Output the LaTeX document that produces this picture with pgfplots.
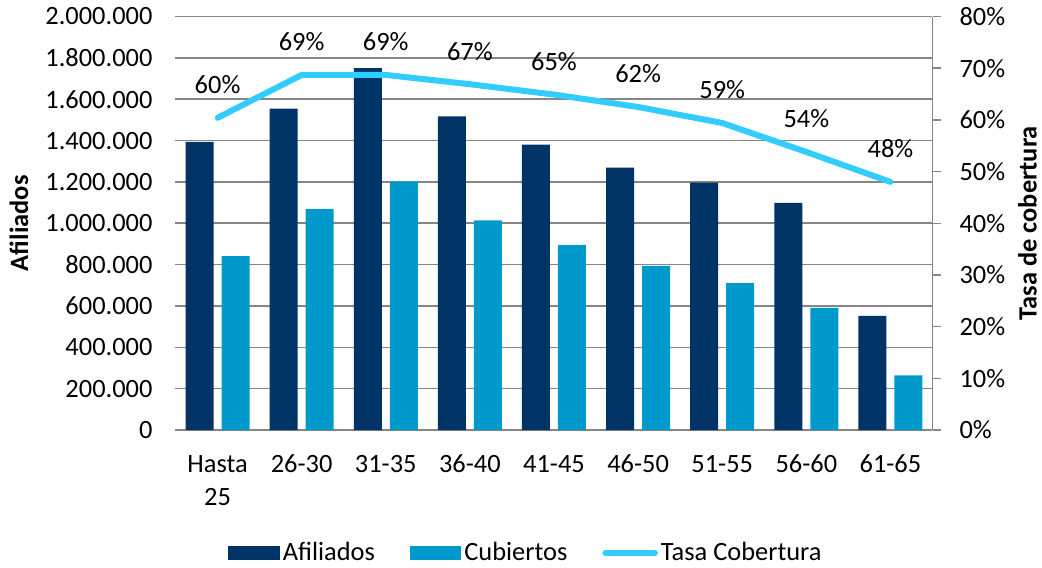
\documentclass[border=0pt]{standalone}
\usepackage{fontspec}
\setmainfont{Carlito}
\usepackage{pgfplots}
\pgfplotsset{compat=1.18}
\definecolor{afil}{RGB}{0,51,102}
\definecolor{cubi}{RGB}{0,153,204}
\definecolor{tasa}{RGB}{51,204,255}
\definecolor{gridgray}{RGB}{134,134,134}

\begin{document}
\begin{tikzpicture}[font=\fontsize{13.2}{16.5}\selectfont]
\path[use as bounding box] (-87.75pt,-68.5pt) rectangle (433.25pt,215pt);
% bars, left axis
\begin{axis}[
  at={(0,0)}, anchor=south west,
  scale only axis, width=378.5pt, height=206.75pt,
  xmin=-0.5, xmax=8.5, ymin=0, ymax=2000000,
  axis line style={draw=none},
  major tick length=0pt,
  ymajorgrids, grid style={gridgray, line width=0.75pt},
  ytick={0,200000,...,2000000},
  scaled y ticks=false,
  yticklabel={\pgfmathprintnumber[fixed, precision=0, 1000 sep={.}, assume math mode=true]{\tick}},
  yticklabel style={xshift=-8pt},
  xtick={0,...,8},
  xticklabels={{Hasta\\25},26-30,31-35,36-40,41-45,46-50,51-55,56-60,61-65},
  xticklabel style={align=center, yshift=-9pt},
  ylabel={\textbf{Afiliados}},
  ylabel style={at={(axis description cs:-0.2067,0.5)}, anchor=center},
  legend columns=-1,
  legend style={at={(0.4637,-0.2975)}, anchor=center, draw=none,
    /tikz/every even column/.append style={column sep=16pt},
    nodes={inner xsep=1.5pt}},
  legend cell align=left,
]
\addplot[ybar, bar width=14pt, bar shift=-9pt, fill=afil, draw=none,
  legend image code/.code={\fill[afil] (0pt,-3.65pt) rectangle (25.7pt,3.65pt);}]
  coordinates {(0,1393000) (1,1554000) (2,1750000) (3,1517000) (4,1380000)
               (5,1269000) (6,1196000) (7,1098000) (8,552000)};
\addlegendentry{Afiliados}
\addplot[ybar, bar width=14pt, bar shift=9pt, fill=cubi, draw=none,
  legend image code/.code={\fill[cubi] (0pt,-3.65pt) rectangle (25.7pt,3.65pt);}]
  coordinates {(0,841000) (1,1068000) (2,1203000) (3,1014000) (4,894000)
               (5,794000) (6,710000) (7,591000) (8,264000)};
\addlegendentry{Cubiertos}
\addlegendimage{legend image code/.code={\draw[tasa, line width=3pt, line cap=round] (1.5pt,0pt) -- (26.25pt,0pt);}}
\addlegendentry{Tasa Cobertura}
\end{axis}
% line, right axis
\begin{axis}[
  at={(0,0)}, anchor=south west,
  scale only axis, width=378.5pt, height=206.75pt,
  xmin=-0.5, xmax=8.5, ymin=0, ymax=80,
  axis x line=none, axis y line*=right,
  y axis line style={gridgray, line width=0.75pt},
  ytick={0,10,...,80},
  ytick style={gridgray, line width=0.75pt},
  tick align=outside, major tick length=4pt,
  yticklabel={\pgfmathprintnumber[fixed, precision=0, assume math mode=true]{\tick}\%},
  yticklabel style={xshift=6pt},
  ylabel={\textbf{Tasa de cobertura}},
  ylabel style={at={(axis description cs:1.1255,0.5)}, anchor=center, rotate=0},
]
\addplot[tasa, line width=3pt, line join=round, line cap=round,
  nodes near coords, point meta=explicit symbolic,
  every node near coord/.style={anchor=center, yshift=16.5pt, text=black}]
  coordinates {(0,60.4)[60\%] (1,68.7)[69\%] (2,68.7)[69\%] (3,66.9)[67\%]
               (4,64.9)[65\%] (5,62.5)[62\%] (6,59.4)[59\%] (7,53.8)[54\%]
               (8,48.0)[48\%]};
\end{axis}
\end{tikzpicture}
\end{document}
